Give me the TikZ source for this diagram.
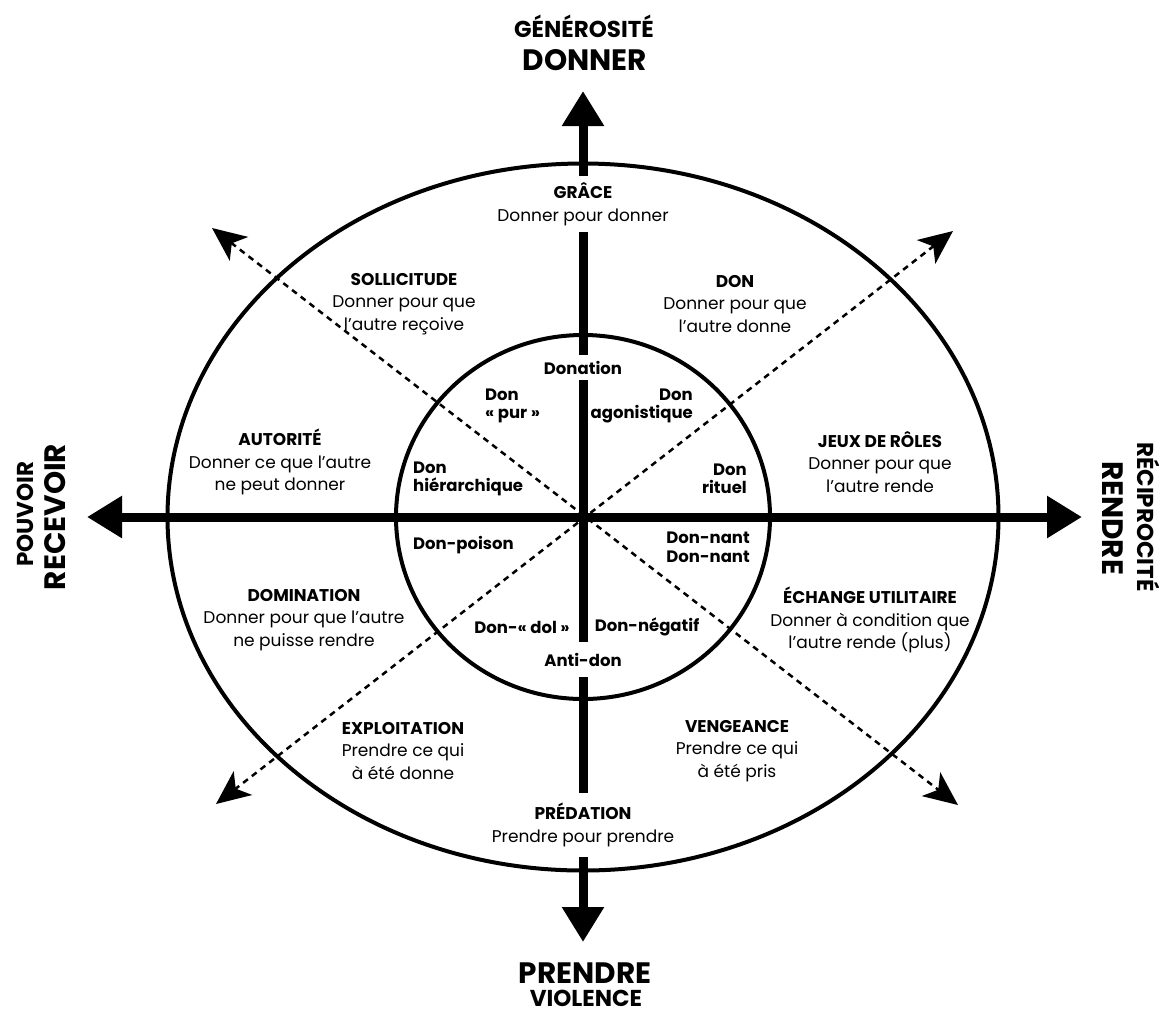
\documentclass[tikz,border=0pt]{standalone}
\usepackage{fontspec}
\setmainfont{Poppins}
\usetikzlibrary{arrows.meta}

\tikzset{
  axis/.style={line width=9pt},
  ring/.style={line width=4pt},
  diag/.style={line width=2.5pt, dash pattern=on 6pt off 5pt,
    {Stealth[length=34pt,width=30pt,inset=9pt]}-{Stealth[length=34pt,width=30pt,inset=9pt]}},
  quad/.style={align=center, inner sep=0pt, font=\fontsize{17}{22.5}\selectfont},
  gap/.style={quad, minimum width=200pt},
  inner/.style={inner sep=0pt, font=\bfseries\fontsize{16.5}{18.5}\selectfont},
  big/.style={inner sep=0pt, font=\bfseries\fontsize{29.5}{31}\selectfont},
  small/.style={inner sep=0pt, font=\bfseries\fontsize{23}{25}\selectfont},
}

\begin{document}
\begin{tikzpicture}[x=1pt,y=-1pt]
  \useasboundingbox (0,0) rectangle (1159,1013);

  \coordinate (ctr) at (583,517);
  \coordinate (tipN) at (583,91);
  \coordinate (tipS) at (583,942);
  \coordinate (tipW) at (87,517);
  \coordinate (tipE) at (1082,517);
  \coordinate (tipNW) at (212,228);
  \coordinate (tipSE) at (958,805);
  \coordinate (tipNE) at (953,231);
  \coordinate (tipSW) at (216,804);

  % pole labels
  \node[small, anchor=base] (generosite) at (584,37) {GÉNÉROSITÉ};
  \node[big, anchor=base] (donner) at (585,70) {DONNER};
  \node[big, anchor=base] (prendre) at (585,983) {PRENDRE};
  \node[small, anchor=base] (violence) at (586,1006) {VIOLENCE};
  \node[small, anchor=base, rotate=90] (pouvoir) at (33,514) {POUVOIR};
  \node[big, anchor=base, rotate=90] (recevoir) at (65,517) {RECEVOIR};
  \node[big, anchor=base, rotate=-90] (rendre) at (1102,518) {RENDRE};
  \node[small, anchor=base, rotate=-90] (reciprocite) at (1137,517) {RÉCIPROCITÉ};

  % outer ring
  \node[gap, minimum height=56pt] (grace) at (583,204)
    {\textbf{GRÂCE}\\Donner pour donner};
  \node[gap, minimum height=64pt] (predation) at (583,825)
    {\textbf{PRÉDATION}\\Prendre pour prendre};
  \node[quad] (sollicitude) at (404,304) {\textbf{SOLLICITUDE}\\Donner pour que\\l’autre reçoive};
  \node[quad] (don) at (735,304) {\textbf{DON}\\Donner pour que\\l’autre donne};
  \node[quad] (autorite) at (280,462) {\textbf{AUTORITÉ}\\Donner ce que l’autre\\ne peut donner};
  \node[quad] (jeux) at (880,462) {\textbf{JEUX DE RÔLES}\\Donner pour que\\l’autre rende};
  \node[quad] (domination) at (304,620) {\textbf{DOMINATION}\\Donner pour que l’autre\\ne puisse rendre};
  \node[quad] (echange) at (870,620) {\textbf{ÉCHANGE UTILITAIRE}\\Donner à condition que\\l’autre rende (plus)};
  \node[quad] (exploitation) at (403,751) {\textbf{EXPLOITATION}\\Prendre ce qui\\à été donne};
  \node[quad] (vengeance) at (737,751) {\textbf{VENGEANCE}\\Prendre ce qui\\à été pris};

  % inner circle
  \node[inner, minimum height=25pt, minimum width=90pt] (donation) at (583,367.5) {Donation};
  \node[inner, minimum height=35pt, minimum width=90pt] (antidon) at (583,659.5) {Anti-don};
  \node[inner, align=left, anchor=west] (pur) at (485,406) {Don\\«~pur~»};
  \node[inner, align=right, anchor=east] (agonistique) at (693,406) {Don\\agonistique};
  \node[inner, align=left, anchor=west] (hierarchique) at (413,479) {Don\\hiérarchique};
  \node[inner, align=right, anchor=east] (rituel) at (747,479) {Don\\rituel};
  \node[inner, anchor=west] (poison) at (413,545) {Don-poison};
  \node[inner, align=right, anchor=east] (donnant) at (750,547.5) {Don-nant\\Don-nant};
  \node[inner] (dol) at (522,627) {Don-«~dol~»};
  \node[inner] (negatif) at (647,627) {Don-négatif};

  \draw[diag] (tipNW) -- (tipSE);
  \draw[diag] (tipNE) -- (tipSW);

  \draw[ring] (ctr) ellipse [x radius=415.5pt, y radius=353.5pt];
  \draw[ring] (ctr) ellipse [x radius=187pt, y radius=182pt];

  \draw[axis, {Triangle[width=40pt,length=35pt]}-{Triangle[width=40pt,length=35pt]}] (tipW) -- (tipE);
  \draw[axis, -{Triangle[width=40pt,length=35pt]}] (grace) -- (tipN);
  \draw[axis] (grace) -- (donation);
  \draw[axis] (donation) -- (antidon);
  \draw[axis] (antidon) -- (predation);
  \draw[axis, -{Triangle[width=40pt,length=35pt]}] (predation) -- (tipS);
\end{tikzpicture}
\end{document}
